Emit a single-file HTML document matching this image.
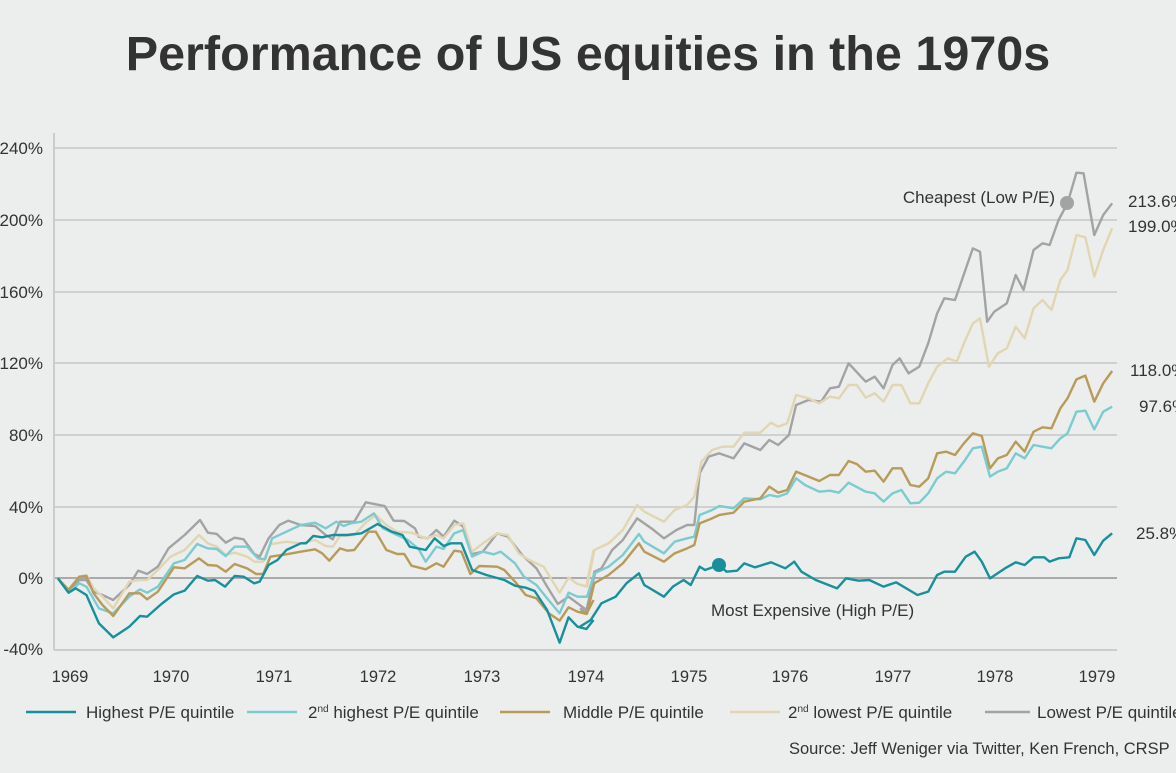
<!DOCTYPE html>
<html><head><meta charset="utf-8"><style>
html,body{margin:0;padding:0;background:#eceeed;}
body{width:1176px;height:768px;overflow:hidden;font-family:"Liberation Sans",sans-serif;}
</style></head><body>
<svg width="1176" height="768" viewBox="0 0 1176 768" xmlns="http://www.w3.org/2000/svg" font-family="Liberation Sans, sans-serif">
<rect width="1176" height="768" fill="#eceeed"/>
<text x="588" y="70" text-anchor="middle" font-size="48.5" font-weight="bold" fill="#333">Performance of US equities in the 1970s</text>
<g stroke="#cfd0d0" stroke-width="2">
<line x1="54" y1="148" x2="1117" y2="148"/><line x1="54" y1="220" x2="1117" y2="220"/>
<line x1="54" y1="292" x2="1117" y2="292"/><line x1="54" y1="363" x2="1117" y2="363"/>
<line x1="54" y1="435" x2="1117" y2="435"/><line x1="54" y1="507" x2="1117" y2="507"/>
</g>
<line x1="54" y1="578" x2="1117" y2="578" stroke="#aaa" stroke-width="2"/>
<line x1="54" y1="133" x2="54" y2="650" stroke="#ccc" stroke-width="2"/>
<line x1="54" y1="650" x2="1117" y2="650" stroke="#ccc" stroke-width="2"/>
<g font-size="17" fill="#333" text-anchor="end">
<text x="43" y="154">240%</text><text x="43" y="226">200%</text><text x="43" y="298">160%</text>
<text x="43" y="369">120%</text><text x="43" y="441">80%</text><text x="43" y="513">40%</text>
<text x="43" y="584">0%</text><text x="43" y="655">-40%</text>
</g>
<g font-size="16.5" fill="#333" text-anchor="middle">
<text x="70" y="682">1969</text><text x="171" y="682">1970</text><text x="274" y="682">1971</text>
<text x="378" y="682">1972</text><text x="482" y="682">1973</text><text x="586" y="682">1974</text>
<text x="689" y="682">1975</text><text x="790" y="682">1976</text><text x="893" y="682">1977</text>
<text x="995" y="682">1978</text><text x="1097" y="682">1979</text>
</g>
<g fill="none" stroke-width="2.4" stroke-linejoin="round">
<g transform="translate(40,400) scale(0.35714,0.33333)">
<polyline vector-effect="non-scaling-stroke" stroke="#a3a3a3" points="50,535 80,575 110,540 130,540 150,575 175,585 205,600 250,555 275,512 300,522 330,500 360,445 405,405 448,360 470,398 495,402 520,428 545,413 570,418 600,462 615,470 640,415 670,375 695,362 730,375 770,378 800,405 820,418 840,365 880,365 912,307 940,313 965,318 990,362 1020,363 1050,385 1060,410 1085,415 1110,390 1130,410 1160,362 1185,380 1210,462 1240,455 1280,400 1310,410 1350,465 1390,505 1420,560 1450,612 1480,590 1505,610 1530,630 1555,515"/>
<polyline vector-effect="non-scaling-stroke" stroke="#e2d5b2" points="50,535 80,568 110,530 130,525 150,565 175,590 205,625 250,545 280,540 300,540 330,510 365,470 405,450 445,405 470,430 495,440 520,465 545,458 580,470 600,485 625,485 645,433 690,425 730,430 770,420 800,438 820,440 840,408 880,405 910,370 940,345 970,375 1000,395 1040,398 1080,415 1110,405 1130,415 1160,375 1185,370 1210,455 1240,430 1280,400 1310,405 1340,460 1370,480 1410,500 1455,578 1480,533 1505,552 1530,558 1550,450"/>
<polyline vector-effect="non-scaling-stroke" stroke="#7ccbd0" points="50,535 80,578 110,550 130,560 165,625 205,640 250,590 280,568 300,578 330,560 375,490 405,480 440,432 470,445 495,447 520,468 545,440 580,440 610,475 630,478 650,415 690,395 730,375 770,368 800,385 830,365 850,378 870,370 900,365 935,340 960,385 1000,405 1030,420 1060,447 1080,485 1110,440 1130,447 1160,400 1185,390 1210,470 1240,455 1270,463 1290,455 1330,490 1355,530 1390,555 1420,595 1455,640 1480,578 1505,590 1530,590 1550,560"/>
<polyline vector-effect="non-scaling-stroke" stroke="#b89b5a" points="50,535 80,570 110,530 130,528 150,580 175,615 205,648 250,580 280,580 300,598 330,575 375,502 405,505 445,475 470,495 495,497 520,515 545,492 580,505 605,522 625,522 645,470 690,463 730,455 770,448 790,460 810,482 840,445 860,452 880,450 920,395 940,395 970,450 1000,462 1020,462 1040,497 1080,508 1110,490 1130,500 1160,452 1180,455 1205,522 1230,498 1280,500 1300,510 1330,545 1360,585 1390,595 1425,640 1455,662 1480,622 1505,635 1530,642 1550,600"/>
<polyline vector-effect="non-scaling-stroke" stroke="#17909b" points="50,535 80,578 100,565 130,585 165,670 205,712 250,680 280,648 300,650 340,612 375,583 405,572 440,528 470,542 490,540 518,560 545,528 570,530 600,550 615,545 640,495 665,480 690,450 730,430 745,430 765,408 790,412 820,405 860,405 900,400 945,372 965,383 985,395 1015,405 1035,440 1080,450 1105,415 1130,438 1150,430 1180,430 1210,510 1250,525 1300,540 1330,557 1360,563 1385,573 1420,630 1455,728 1480,652 1505,680 1530,687 1550,660"/>
</g>
<g transform="translate(580,150) scale(0.35714,0.33333)">
<polyline vector-effect="non-scaling-stroke" stroke="#a3a3a3" points="0,1375 20,1390 40,1265 60,1255 90,1200 120,1170 160,1105 200,1135 235,1165 270,1140 300,1125 320,1125 335,970 360,920 390,910 430,925 460,880 505,900 530,870 555,885 585,855 605,765 640,750 675,755 700,715 725,710 752,640 800,695 825,680 850,715 875,645 895,625 920,670 950,650 975,580 1000,490 1020,445 1050,450 1100,295 1120,305 1140,515 1160,485 1195,460 1220,375 1242,420 1270,300 1295,280 1315,285 1340,210 1365,160 1390,68 1410,70 1440,255 1465,195 1490,160"/>
<polyline vector-effect="non-scaling-stroke" stroke="#e2d5b2" points="0,1305 20,1310 40,1200 80,1180 120,1140 160,1065 180,1085 235,1115 265,1080 300,1065 320,1040 340,935 370,900 400,890 430,890 460,848 505,848 535,818 555,830 580,820 605,735 640,745 670,760 700,740 725,745 752,705 775,705 800,743 825,730 850,755 875,705 900,705 925,760 950,760 975,700 1000,650 1030,625 1055,635 1075,580 1100,520 1120,505 1145,650 1170,610 1195,595 1220,530 1245,565 1270,475 1295,450 1320,480 1345,390 1365,360 1390,255 1415,262 1440,380 1465,300 1490,235"/>
<polyline vector-effect="non-scaling-stroke" stroke="#7ccbd0" points="0,1340 20,1340 40,1270 80,1250 120,1215 165,1152 180,1175 235,1210 265,1175 300,1165 320,1160 335,1095 370,1080 390,1068 430,1075 460,1045 505,1048 530,1035 555,1040 580,1030 605,985 630,1005 670,1025 700,1022 725,1028 752,998 800,1025 825,1030 850,1055 875,1030 900,1020 925,1060 950,1058 975,1030 1000,985 1025,965 1050,970 1075,935 1100,895 1125,890 1148,980 1170,965 1195,955 1220,910 1245,925 1270,885 1295,890 1320,895 1345,865 1365,850 1390,785 1415,782 1440,838 1465,785 1490,770"/>
<polyline vector-effect="non-scaling-stroke" stroke="#b89b5a" points="0,1385 20,1390 40,1300 80,1275 120,1240 165,1180 180,1205 235,1235 265,1210 300,1195 320,1185 335,1120 370,1105 390,1095 430,1088 460,1055 505,1045 530,1010 555,1028 580,1020 605,965 640,980 670,993 700,975 725,975 752,933 775,942 800,965 825,962 850,995 875,955 900,955 925,1005 950,1010 975,985 1000,910 1025,905 1050,915 1075,880 1100,850 1125,858 1148,955 1170,925 1195,915 1220,875 1245,905 1270,845 1295,832 1320,835 1345,775 1365,745 1390,688 1415,677 1440,755 1465,700 1490,663"/>
<polyline vector-effect="non-scaling-stroke" stroke="#17909b" points="0,1430 30,1410 60,1360 100,1340 130,1300 165,1270 180,1305 235,1340 260,1310 290,1290 310,1305 335,1250 350,1260 390,1245 410,1265 440,1262 460,1240 490,1252 535,1237 575,1255 600,1235 620,1265 660,1290 720,1315 745,1285 780,1292 810,1290 850,1310 885,1297 945,1335 975,1325 1000,1275 1020,1265 1050,1265 1080,1220 1105,1205 1125,1235 1148,1285 1190,1255 1220,1237 1245,1245 1270,1222 1300,1222 1315,1235 1340,1225 1370,1222 1390,1165 1415,1170 1440,1215 1465,1172 1490,1150"/>
</g>
</g>
<circle cx="1067" cy="203" r="7" fill="#a3a3a3"/>
<circle cx="719" cy="565" r="7" fill="#17909b"/>
<g font-size="17" fill="#333">
<text x="1055" y="203" text-anchor="end">Cheapest (Low P/E)</text>
<text x="711" y="616">Most Expensive (High P/E)</text>
<text x="1128" y="207">213.6%</text><text x="1128" y="232">199.0%</text>
<text x="1130" y="376">118.0%</text><text x="1139" y="412">97.6%</text>
<text x="1136" y="539">25.8%</text>
</g>
<g stroke-width="2.5">
<line x1="26" y1="712" x2="76" y2="712" stroke="#17909b"/>
<line x1="247" y1="712" x2="297" y2="712" stroke="#7ccbd0"/>
<line x1="500" y1="712" x2="550" y2="712" stroke="#b89b5a"/>
<line x1="730" y1="712" x2="780" y2="712" stroke="#e2d5b2"/>
<line x1="985" y1="712" x2="1030" y2="712" stroke="#a3a3a3"/>
</g>
<g font-size="17" fill="#333">
<text x="86" y="718">Highest P/E quintile</text>
<text x="308" y="718">2<tspan font-size="10" dy="-6">nd</tspan><tspan dy="6"> highest P/E quintile</tspan></text>
<text x="563" y="718">Middle P/E quintile</text>
<text x="788" y="718">2<tspan font-size="10" dy="-6">nd</tspan><tspan dy="6"> lowest P/E quintile</tspan></text>
<text x="1037" y="718">Lowest P/E quintile</text>
<text x="789" y="754" font-size="16.5">Source: Jeff Weniger via Twitter, Ken French, CRSP</text>
</g>
</svg>
</body></html>
